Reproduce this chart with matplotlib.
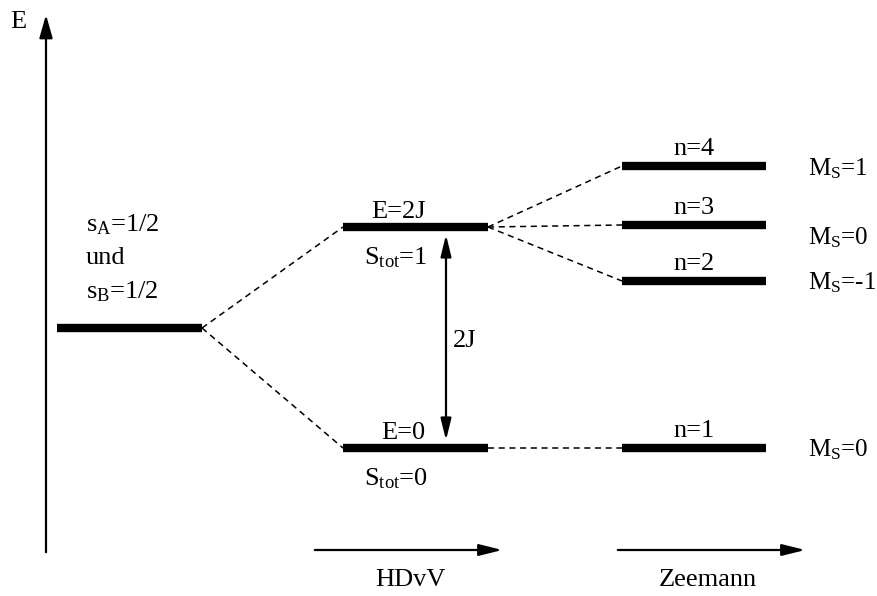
import matplotlib
matplotlib.use("Agg")
import matplotlib.pyplot as plt

plt.rcParams["font.family"] = "Liberation Serif"
plt.rcParams["mathtext.fontset"] = "custom"
plt.rcParams["mathtext.rm"] = "Liberation Serif"
plt.rcParams["mathtext.it"] = "Liberation Serif:italic"

# level positions in picture units (y grows downward)
start_level = (57, 202, 328)
hdvv_levels = [(343, 488, 227), (343, 488, 448)]        # E=2J, E=0
zeeman_levels = [(622, 766, 166), (622, 766, 225), (622, 766, 281), (622, 766, 448)]
zeeman_parent = [0, 0, 0, 1]

hdvv_top = ["E=2J", "E=0"]
hdvv_bottom = [r"S$_\mathrm{tot}$=1", r"S$_\mathrm{tot}$=0"]
zeeman_names = ["n=4", "n=3", "n=2", "n=1"]
ms_labels = [r"M$_\mathrm{S}$=1", r"M$_\mathrm{S}$=0", r"M$_\mathrm{S}$=-1", r"M$_\mathrm{S}$=0"]
ms_y = [167, 236, 281, 448]

fig = plt.figure(figsize=(8.77, 5.96), dpi=100)
ax = fig.add_axes([0, 0, 1, 1])
ax.set_xlim(0, 877)
ax.set_ylim(596, 0)
ax.axis("off")

lw_level = 6
fs = 19

def level(x0, x1, y):
    ax.plot([x0, x1], [y, y], color="black", lw=lw_level, solid_capstyle="butt")

def dash(p, q):
    ax.plot([p[0], q[0]], [p[1], q[1]], color="black", lw=1.1, ls=(0, (4, 3)))

level(*start_level)
for lv in hdvv_levels:
    level(*lv)
    dash((start_level[1], start_level[2]), (lv[0], lv[2]))
for lv, par in zip(zeeman_levels, zeeman_parent):
    level(*lv)
    p = hdvv_levels[par]
    dash((p[1], p[2]), (lv[0], lv[2]))

# energy axis
ax.annotate("", xy=(46, 12), xytext=(46, 555),
            arrowprops=dict(arrowstyle="-|>,head_length=1.4,head_width=0.4", color="black", lw=1.6))
ax.text(18, 22, "E", fontsize=fs, ha="center", va="center")

# 2J double arrow
ax.annotate("", xy=(446, 232), xytext=(446, 443),
            arrowprops=dict(arrowstyle="<|-|>,head_length=1.3,head_width=0.32", color="black", lw=1.6))
ax.text(465, 341, "2J", fontsize=fs, ha="center", va="center")

# start labels
ax.text(86, 225, r"s$_\mathrm{A}$=1/2", fontsize=fs, ha="left", va="center")
ax.text(86, 258, "und", fontsize=fs, ha="left", va="center")
ax.text(86, 292, r"s$_\mathrm{B}$=1/2", fontsize=fs, ha="left", va="center")

for lv, top, bot in zip(hdvv_levels, hdvv_top, hdvv_bottom):
    ax.text(lv[0] + 55 + (5 if top == "E=0" else 0), lv[2] - 15, top, fontsize=fs, ha="center", va="center")
    ax.text(lv[0] + 53, lv[2] + 31, bot, fontsize=fs, ha="center", va="center")

for lv, name, ms, y in zip(zeeman_levels, zeeman_names, ms_labels, ms_y):
    ax.text((lv[0] + lv[1]) / 2, lv[2] - 17, name, fontsize=fs, ha="center", va="center")
    ax.text(808, y + 2, ms, fontsize=fs - 1, ha="left", va="center")

# bottom arrows
for x0, x1, lab, xl in [(312, 505, "HDvV", 410), (615, 808, "Zeemann", 708)]:
    ax.annotate("", xy=(x1, 550), xytext=(x0, 550),
                arrowprops=dict(arrowstyle="-|>,head_length=1.4,head_width=0.35", color="black", lw=1.6))
    ax.text(xl, 580, lab, fontsize=fs, ha="center", va="center")

fig.savefig("out.png", dpi=100)
